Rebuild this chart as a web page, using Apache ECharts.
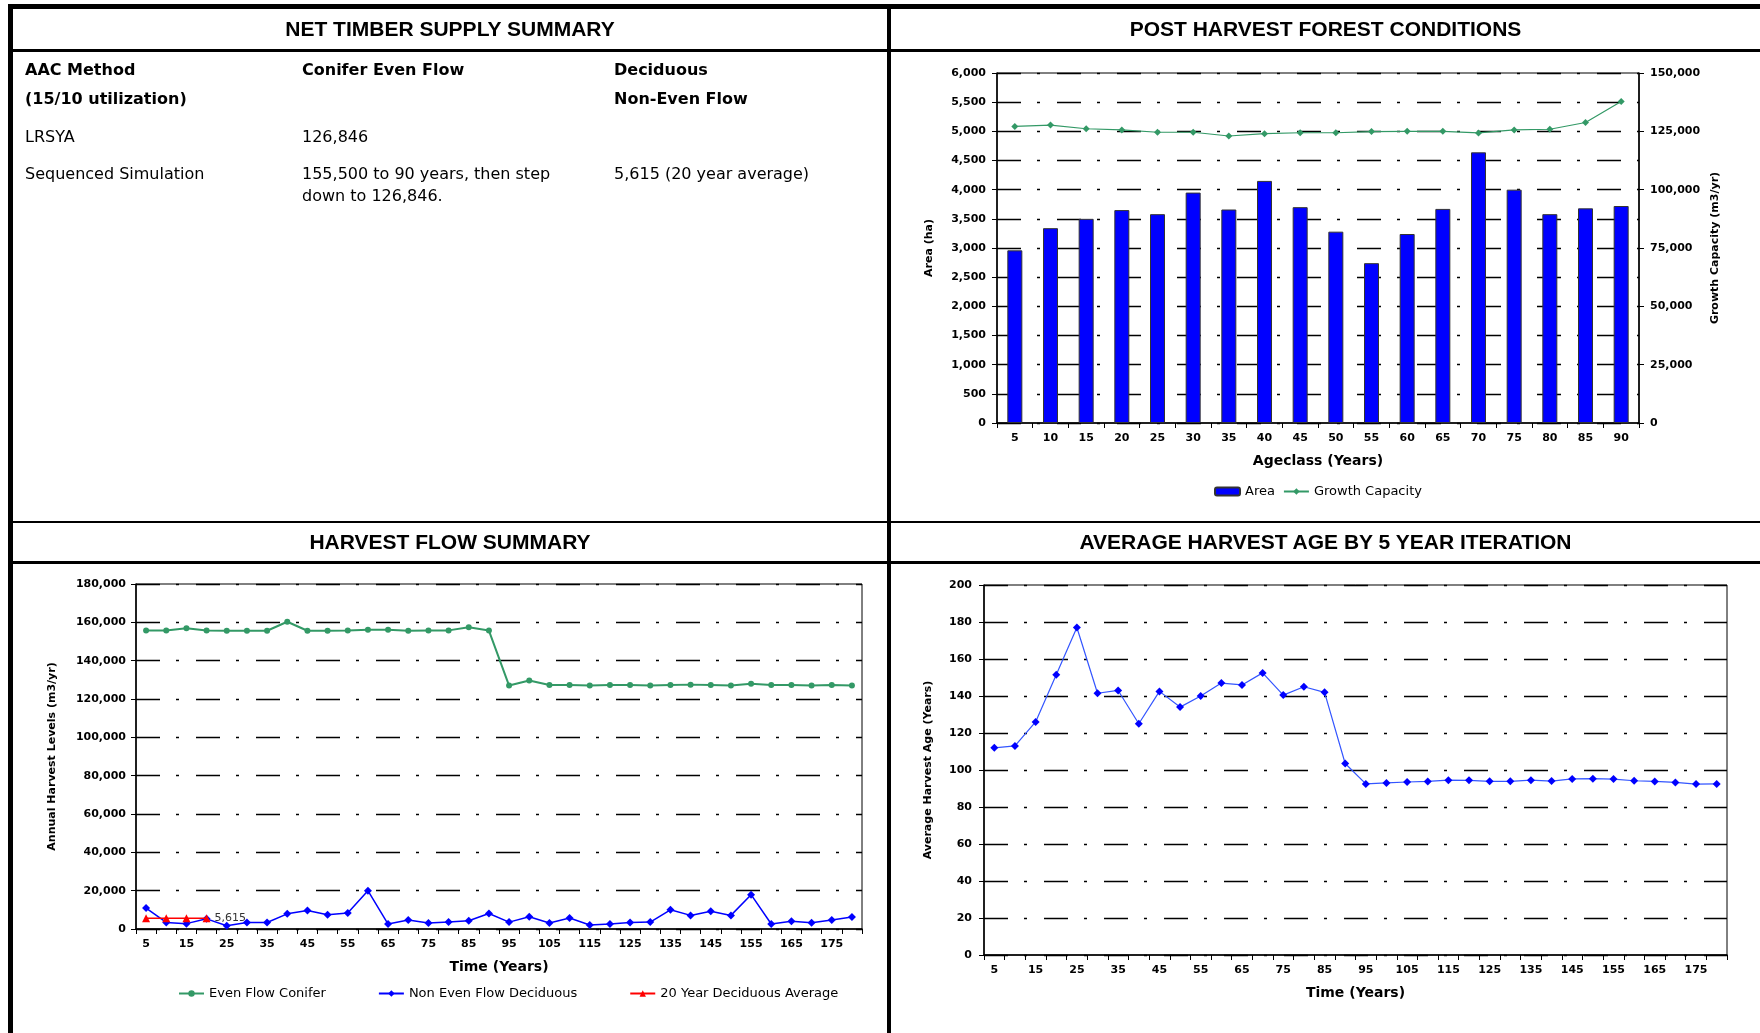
<!DOCTYPE html>
<html>
<head>
<meta charset="utf-8">
<script src="https://cdn.jsdelivr.net/npm/echarts@6.0.0/dist/echarts.min.js"></script>
<style>
html,body{margin:0;padding:0;background:#fff;}
#page{position:relative;width:1760px;height:1033px;overflow:hidden;}
#chart{position:absolute;left:0;top:0;width:1760px;height:1033px;}
.bar{position:absolute;background:#000;}
.hdr{position:absolute;font-family:"Liberation Sans",Arial,sans-serif;font-weight:bold;font-size:21px;color:#000;text-align:center;height:30px;line-height:30px;white-space:nowrap;}
.cell{position:absolute;font-family:"DejaVu Sans",sans-serif;font-size:16px;color:#000;height:22px;line-height:22px;white-space:nowrap;}
.b{font-weight:bold;}
</style>
</head>
<body>
<div id="page">
  <div id="chart"></div>
</div>
<script>
// ---------- data ----------
const panelTitles = ['NET TIMBER SUPPLY SUMMARY', 'POST HARVEST FOREST CONDITIONS', 'HARVEST FLOW SUMMARY', 'AVERAGE HARVEST AGE BY 5 YEAR ITERATION'];

const tableHead1 = ['AAC Method', 'Conifer Even Flow', 'Deciduous'];
const tableHead2 = ['(15/10 utilization)', '', 'Non-Even Flow'];
const tableRowLRSYA = ['LRSYA', '126,846', ''];
const tableRowSeq1 = ['Sequenced Simulation', '155,500 to 90 years, then step', '5,615 (20 year average)'];
const tableRowSeq2 = ['', 'down to 126,846.', ''];

const ageClasses = ['5','10','15','20','25','30','35','40','45','50','55','60','65','70','75','80','85','90'];
const areaHa = [2960, 3340, 3500, 3650, 3580, 3950, 3660, 4150, 3700, 3280, 2740, 3240, 3670, 4640, 4000, 3580, 3680, 3720];
const growthCapacity = [127100, 127700, 126100, 125600, 124600, 124600, 123000, 124000, 124400, 124400, 124900, 125000, 125000, 124300, 125600, 125900, 128800, 137800];

const years = ['5','10','15','20','25','30','35','40','45','50','55','60','65','70','75','80','85','90',
               '95','100','105','110','115','120','125','130','135','140','145','150','155','160','165','170','175','180'];
const evenFlowConifer = [155800, 155800, 156900, 155800, 155600, 155600, 155600, 160300, 155600, 155600, 155800, 156100, 156100, 155600, 155800, 155800, 157400, 155700,
                         127000, 129700, 127300, 127300, 127100, 127300, 127300, 127000, 127300, 127500, 127300, 127100, 128000, 127300, 127300, 127100, 127300, 127100];
const nonEvenFlowDeciduous = [10900, 3400, 2800, 5300, 1700, 3400, 3400, 7900, 9700, 7400, 8400, 20000, 2600, 4700, 3100, 3600, 4300, 8100,
                              3600, 6400, 3100, 5700, 2100, 2600, 3400, 3600, 10000, 7100, 9300, 7100, 17900, 2600, 4100, 3300, 4700, 6200];
const deciduousAvg20 = [5615, 5615, 5615, 5615];

const avgHarvestAge = [112, 113, 126, 151.5, 177, 141.5, 143, 125, 142.5, 134, 140, 147, 146, 152.5, 140.5, 145, 142, 103.5,
                       92.5, 93, 93.5, 93.8, 94.5, 94.4, 93.9, 93.9, 94.5, 94, 95.2, 95.3, 95.1, 94.2, 93.8, 93.3, 92.4, 92.5];

// ---------- frame & text (HTML) ----------
const page = document.getElementById('page');
function addDiv(cls, style, text) {
  const d = document.createElement('div');
  d.className = cls;
  Object.assign(d.style, style);
  if (text !== undefined) d.textContent = text;
  page.appendChild(d);
  return d;
}
// frame lines
addDiv('bar', {left:'8px', top:'4px', width:'1752px', height:'5px'});
addDiv('bar', {left:'8px', top:'4px', width:'5px', height:'1029px'});
addDiv('bar', {left:'887px', top:'4px', width:'4px', height:'1029px'});
addDiv('bar', {left:'8px', top:'49px', width:'1752px', height:'3px'});
addDiv('bar', {left:'8px', top:'521px', width:'1752px', height:'2px'});
addDiv('bar', {left:'8px', top:'561px', width:'1752px', height:'3px'});
// headers
const hdrPos = [[13, 887, 29], [891, 1760, 29], [13, 887, 542], [891, 1760, 542]];
panelTitles.forEach((t, i) => {
  const p = hdrPos[i];
  addDiv('hdr', {left:p[0]+'px', width:(p[1]-p[0])+'px', top:(p[2]-15)+'px'}, t);
});
// table
const colX = [25, 302, 614];
const rows = [[tableHead1, 70, true], [tableHead2, 99, true], [tableRowLRSYA, 137, false], [tableRowSeq1, 174, false], [tableRowSeq2, 196, false]];
rows.forEach(r => {
  r[0].forEach((txt, ci) => {
    if (!txt) return;
    addDiv('cell' + (r[2] ? ' b' : ''), {left:colX[ci]+'px', top:(r[1]-11)+'px'}, txt);
  });
});

// ---------- chart ----------
const chart = echarts.init(document.getElementById('chart'), null, {renderer:'canvas'});
const F = 'DejaVu Sans';
const tickLbl = {fontFamily:F, fontWeight:'bold', fontSize:11, color:'#000'};
const axName = {fontFamily:F, fontWeight:'bold', fontSize:11, color:'#000'};
const xName = {fontFamily:F, fontWeight:'bold', fontSize:14, color:'#000'};
const dashGrid = {color:'#000', width:1.3, type:[24, 16, 3, 17]};
const axLine = {show:true, lineStyle:{color:'#000', width:1.5}};
const axTickY = {show:true, length:5, lineStyle:{color:'#000', width:1}};
const axTickX = {show:true, interval:0, length:5, lineStyle:{color:'#000', width:1}};

const option = {
  animation: false,
  backgroundColor: '#fff',
  grid: [
    {left:997, top:73, width:642, height:350, show:true, borderColor:'#000', borderWidth:1, backgroundColor:'transparent'},
    {left:136, top:584, width:726, height:345, show:true, borderColor:'#000', borderWidth:1, backgroundColor:'transparent'},
    {left:984, top:585, width:743, height:370, show:true, borderColor:'#000', borderWidth:1, backgroundColor:'transparent'}
  ],
  xAxis: [
    {gridIndex:0, type:'category', data:ageClasses, boundaryGap:true, axisLine:axLine, axisTick:axTickX,
     axisLabel:Object.assign({interval:0, margin:10}, tickLbl), splitLine:{show:false},
     name:'Ageclass (Years)', nameLocation:'middle', nameGap:31, nameTextStyle:xName},
    {gridIndex:1, type:'category', data:years, boundaryGap:true, axisLine:axLine, axisTick:axTickX,
     axisLabel:Object.assign({interval:1, margin:10}, tickLbl), splitLine:{show:false},
     name:'Time (Years)', nameLocation:'middle', nameGap:31, nameTextStyle:xName},
    {gridIndex:2, type:'category', data:years, boundaryGap:true, axisLine:axLine, axisTick:axTickX,
     axisLabel:Object.assign({interval:1, margin:10}, tickLbl), splitLine:{show:false},
     name:'Time (Years)', nameLocation:'middle', nameGap:31, nameTextStyle:xName}
  ],
  yAxis: [
    {gridIndex:0, type:'value', position:'left', min:0, max:6000, interval:500,
     axisLine:axLine, axisTick:axTickY, axisLabel:Object.assign({margin:11}, tickLbl),
     splitLine:{show:true, lineStyle:dashGrid},
     name:'Area (ha)', nameLocation:'middle', nameGap:62, nameRotate:90, nameTextStyle:axName},
    {gridIndex:0, type:'value', position:'right', min:0, max:150000, interval:25000,
     axisLine:axLine, axisTick:axTickY, axisLabel:Object.assign({margin:11}, tickLbl),
     splitLine:{show:false},
     name:'Growth Capacity (m3/yr)', nameLocation:'middle', nameGap:71, nameRotate:90, nameTextStyle:axName},
    {gridIndex:1, type:'value', min:0, max:180000, interval:20000,
     axisLine:axLine, axisTick:axTickY, axisLabel:Object.assign({margin:10}, tickLbl),
     splitLine:{show:true, lineStyle:dashGrid},
     name:'Annual Harvest Levels (m3/yr)', nameLocation:'middle', nameGap:78, nameRotate:90, nameTextStyle:axName},
    {gridIndex:2, type:'value', min:0, max:200, interval:20,
     axisLine:axLine, axisTick:axTickY, axisLabel:Object.assign({margin:12}, tickLbl),
     splitLine:{show:true, lineStyle:dashGrid},
     name:'Average Harvest Age (Years)', nameLocation:'middle', nameGap:50, nameRotate:90, nameTextStyle:axName}
  ],
  legend: [
    {data:['Area', 'Growth Capacity'], left:1214, top:485, padding:0, orient:'horizontal', itemWidth:25, itemHeight:8, itemGap:8,
     textStyle:{fontFamily:F, fontSize:13, color:'#000'}},
    {data:['Even Flow Conifer', 'Non Even Flow Deciduous', '20 Year Deciduous Average'], left:178, top:987, padding:0,
     itemWidth:25, itemHeight:8, itemGap:52, textStyle:{fontFamily:F, fontSize:13, color:'#000'}}
  ],
  series: [
    {name:'Area', type:'bar', xAxisIndex:0, yAxisIndex:0, data:areaHa, barWidth:15,
     itemStyle:{color:'#0000FF', borderColor:'#333', borderWidth:1}},
    {name:'Growth Capacity', type:'line', xAxisIndex:0, yAxisIndex:1, data:growthCapacity,
     symbol:'diamond', symbolSize:7, showAllSymbol:true,
     lineStyle:{color:'#339966', width:1.2}, itemStyle:{color:'#339966'}},
    {name:'Even Flow Conifer', type:'line', xAxisIndex:1, yAxisIndex:2, data:evenFlowConifer,
     symbol:'circle', symbolSize:6, showAllSymbol:true,
     lineStyle:{color:'#339966', width:2}, itemStyle:{color:'#339966'}},
    {name:'Non Even Flow Deciduous', type:'line', xAxisIndex:1, yAxisIndex:2, data:nonEvenFlowDeciduous,
     symbol:'diamond', symbolSize:8, showAllSymbol:true,
     lineStyle:{color:'#0000FF', width:1.5}, itemStyle:{color:'#0000FF'}},
    {name:'20 Year Deciduous Average', type:'line', xAxisIndex:1, yAxisIndex:2,
     data:deciduousAvg20.map((v, i) => i === deciduousAvg20.length - 1
        ? {value:v, label:{show:true, position:'right', distance:4,
           formatter:(p) => p.value.toLocaleString('en-US'),
           fontFamily:F, fontSize:11, color:'#333'}}
        : v),
     symbol:'triangle', symbolSize:8, showAllSymbol:true, z:5,
     lineStyle:{color:'#FF0000', width:1.5}, itemStyle:{color:'#FF0000'}},
    {name:'Average Harvest Age', type:'line', xAxisIndex:2, yAxisIndex:3, data:avgHarvestAge,
     symbol:'diamond', symbolSize:8, showAllSymbol:true,
     lineStyle:{color:'#3355FF', width:1.2}, itemStyle:{color:'#0000FF'}}
  ]
};
chart.setOption(option);
</script>
</body>
</html>
